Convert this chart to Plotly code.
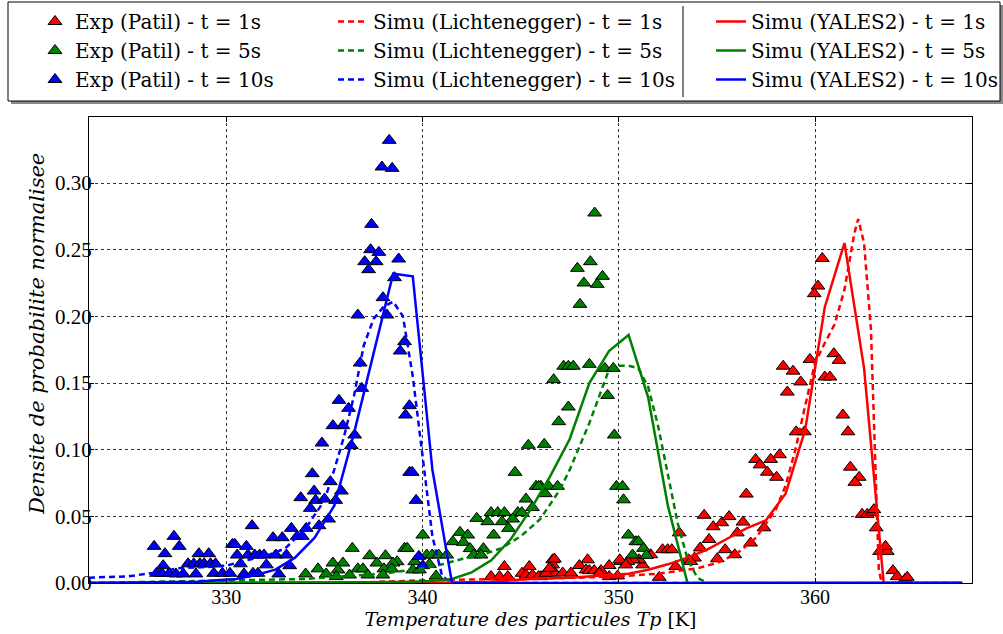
import plotly.graph_objects as go

# --- experimental points (Patil) ---
exp1_x = [360.37, 360.15, 359.96, 358.38, 358.88, 359.27, 358.59, 359.74, 360.96, 361.22, 360.5, 360.76,
          361.42, 361.68, 359.04, 359.46, 361.8, 362.25, 362.03, 356.5, 356.97, 357.2, 357.74, 358.19,
          357.57, 358.04, 354.35, 354.81, 355.25, 355.62, 356.33, 356.04, 354.6, 354.15, 355.42, 356.72,
          355.02, 355.91, 357.4, 353.08, 352.23, 352.49, 352.7, 351.63, 351.21, 352.06, 353.56, 353.86,
          362.4, 362.66, 362.91, 363.0, 363.12, 363.29, 363.68, 363.59, 363.97, 364.19, 364.6, 364.7,
          353.67, 352.9, 351.04, 350.75, 350.45, 350.1, 350.05, 350.36, 349.51, 348.41, 347.99, 348.33,
          348.5, 348.75, 349.09, 346.63, 346.63, 346.63, 346.46, 346.72, 347.14, 347.56, 346.03, 349.51,
          349.94, 349.01, 344.17, 345.44, 343.49, 343.92, 344.34, 345.07, 345.27, 345.6, 345.91, 346.29,
          346.46, 346.72]
exp1_y = [0.2434, 0.2227, 0.217, 0.1626, 0.1589, 0.1508, 0.1432, 0.1677, 0.172, 0.167, 0.1545, 0.1545,
          0.126, 0.1134, 0.1134, 0.1134, 0.0869, 0.0793, 0.0755, 0.0667, 0.0927, 0.0886, 0.0927, 0.0962,
          0.0831, 0.0793, 0.0508, 0.0422, 0.0452, 0.0498, 0.0457, 0.0376, 0.0326, 0.0263, 0.025, 0.030,
          0.0182, 0.0212, 0.0414, 0.0376, 0.025, 0.025, 0.025, 0.0212, 0.0136, 0.0043, 0.0174, 0.0187,
          0.0515, 0.0515, 0.053, 0.055, 0.0414, 0.0237, 0.0237, 0.0275, 0.0093, 0.0048, 0.003, 0.0043,
          0.0161, 0.0124, 0.0174, 0.0174, 0.0161, 0.0161, 0.0174, 0.0136, 0.0131, 0.0174, 0.0131, 0.0098,
          0.0093, 0.0093, 0.0093, 0.0174, 0.0136, 0.0098, 0.0075, 0.0075, 0.0075, 0.0075, 0.0048, 0.0048,
          0.0053, 0.0073, 0.0124, 0.0124, 0.0048, 0.0048, 0.0048, 0.0073, 0.006, 0.006, 0.0048, 0.0073,
          0.011, 0.018]

exp5_x = [348.77, 348.55, 347.89, 349.17, 348.22, 348.9, 348.02, 347.19, 347.43, 347.68, 348.5, 349.29,
          349.72, 346.68, 349.43, 347.43, 346.94, 349.77, 346.2, 346.03, 346.42, 346.88, 346.26, 349.88,
          350.19, 350.24, 350.49, 350.87, 351.0, 351.26, 350.7, 351.41, 345.39, 344.71, 345.78, 345.92,
          345.27, 345.6, 343.49, 343.83, 344.17, 344.85, 345.06, 342.76, 343.32, 344.05, 344.59, 344.38,
          341.91, 342.3, 343.62, 341.54, 342.08, 342.42, 343.1, 340.01, 342.6, 342.98, 336.42, 339.08,
          339.22, 337.3, 338.11, 338.7, 339.6, 340.21, 340.49, 340.82, 341.23, 337.67, 338.49, 335.94,
          336.7, 336.96, 338.03, 338.43, 339.5, 339.84, 340.35, 336.28, 337.21, 337.98, 340.69, 334.04,
          334.67, 335.09, 335.43, 335.69, 335.6]
exp5_y = [0.2775, 0.241, 0.236, 0.230, 0.225, 0.224, 0.209, 0.1626, 0.1626, 0.1626, 0.164, 0.161,
          0.161, 0.1525, 0.1407, 0.132, 0.121, 0.111, 0.104, 0.0725, 0.0725, 0.0725, 0.067, 0.0725,
          0.0725, 0.0624, 0.036, 0.031, 0.031, 0.026, 0.021, 0.0207, 0.1033, 0.083, 0.0725, 0.0725,
          0.063, 0.0566, 0.0528, 0.0528, 0.0528, 0.0528, 0.0528, 0.0485, 0.046, 0.046, 0.048, 0.041,
          0.038, 0.036, 0.036, 0.031, 0.0305, 0.0258, 0.0258, 0.036, 0.021, 0.021, 0.026, 0.026,
          0.026, 0.0205, 0.0205, 0.016, 0.016, 0.021, 0.021, 0.021, 0.021, 0.015, 0.015, 0.015,
          0.0106, 0.0106, 0.0106, 0.0106, 0.0098, 0.0098, 0.014, 0.006, 0.006, 0.006, 0.0053, 0.0068,
          0.0106, 0.0068, 0.015, 0.0098, 0.0048]

exp10_x = [338.3, 337.93, 338.45, 337.4, 337.35, 337.77, 337.05, 337.63, 337.25, 338.78, 338.57, 337.98,
           336.7, 338.18, 339.08, 338.86, 336.82, 336.9, 335.74, 336.23, 339.33, 339.13, 335.94, 336.54,
           336.37, 339.34, 339.47, 339.67, 335.86, 339.81, 340.01, 335.43, 334.87, 334.38, 335.3, 334.47,
           333.79, 334.55, 335.0, 335.57, 334.28, 335.21, 331.31, 333.31, 334.07, 334.72, 333.61, 333.87,
           332.38, 332.85, 327.33, 326.32, 327.6, 326.87, 328.6, 329.1, 330.31, 330.43, 331.02, 330.55,
           331.1, 331.45, 331.7, 331.92, 332.52, 333.06, 326.78, 328.05, 328.34, 328.65, 328.87, 329.19,
           329.45, 330.72, 332.04, 333.23, 326.44, 326.7, 327.09, 327.43, 327.8, 328.45, 329.36, 329.8,
           330.18, 330.9, 331.36, 331.61, 332.67]
exp10_y = [0.332, 0.312, 0.311, 0.269, 0.250, 0.248, 0.241, 0.241, 0.235, 0.243, 0.229, 0.214,
           0.201, 0.201, 0.181, 0.174, 0.165, 0.146, 0.137, 0.131, 0.133, 0.126, 0.118, 0.111,
           0.103, 0.083, 0.083, 0.062, 0.069, 0.020, 0.013, 0.118, 0.105, 0.082, 0.076, 0.069,
           0.064, 0.062, 0.063, 0.062, 0.056, 0.048, 0.043, 0.041, 0.041, 0.043, 0.035, 0.035,
           0.034, 0.034, 0.035, 0.0275, 0.0275, 0.022, 0.022, 0.022, 0.029, 0.029, 0.0275, 0.021,
           0.021, 0.021, 0.021, 0.021, 0.021, 0.021, 0.013, 0.0144, 0.0144, 0.0144, 0.0144, 0.0144,
           0.0144, 0.0144, 0.0136, 0.013, 0.0073, 0.0073, 0.0073, 0.0068, 0.0068, 0.0068, 0.0073, 0.0073,
           0.0073, 0.0068, 0.0073, 0.0073, 0.0068]

# --- Lichtenegger simulation ---
lich1_x = [323, 336, 340, 345, 348, 350, 352, 353, 354, 355, 356, 357, 358, 358.5, 359, 359.5, 360,
           360.5, 361, 361.5, 362, 362.2, 362.5, 362.85, 363.0, 363.25, 363.4, 367.5]
lich1_y = [0, 0.0, 0.002, 0.003, 0.004, 0.005, 0.007, 0.009, 0.011, 0.015, 0.022, 0.034, 0.055, 0.073,
           0.10, 0.133, 0.165, 0.180, 0.194, 0.22, 0.262, 0.273, 0.255, 0.19, 0.116, 0.01, 0.0, 0.0]

lich5_x = [323, 330, 334, 336, 338, 340, 341, 342, 343, 344, 345, 346, 347, 347.5, 348, 348.5, 349,
           349.5, 350, 350.5, 351, 351.5, 352, 352.5, 353, 353.5, 354, 354.5, 367.5]
lich5_y = [0.0, 0.002, 0.003, 0.005, 0.007, 0.011, 0.014, 0.018, 0.021, 0.026, 0.035, 0.048, 0.070,
           0.085, 0.102, 0.120, 0.140, 0.160, 0.163, 0.163, 0.161, 0.147, 0.118, 0.080, 0.045, 0.018,
           0.004, 0.0, 0.0]

lich10_x = [323, 325, 326.5, 327.5, 329, 330, 331, 332, 333, 334, 335, 335.5, 336, 336.5, 337, 337.5,
            338, 338.5, 339, 339.5, 340, 340.5, 341, 341.5, 367.5]
lich10_y = [0.004, 0.005, 0.008, 0.011, 0.012, 0.013, 0.017, 0.020, 0.026, 0.040, 0.062, 0.085, 0.110,
            0.140, 0.178, 0.198, 0.207, 0.211, 0.200, 0.155, 0.095, 0.035, 0.005, 0.0, 0.0]

# --- YALES2 simulation ---
yales1_x = [323, 340.5, 343.5, 345.5, 347.5, 348.5, 349.5, 350.5, 351.5, 352.5, 353.5, 354.5, 355.5,
            356.5, 357.5, 358.5, 359.5, 360.5, 361.5, 362.5, 363.5, 367.5]
yales1_y = [0, 0.0, 0.001, 0.003, 0.004, 0.005, 0.006, 0.007, 0.010, 0.014, 0.019, 0.025, 0.033,
            0.041, 0.047, 0.067, 0.115, 0.207, 0.255, 0.161, 0.0, 0.0]

yales5_x = [323, 335.5, 337.5, 339.5, 340.5, 341.5, 342.5, 343.5, 344.5, 345.5, 346.5, 347.5, 348.5,
            349.5, 350.5, 351.5, 352.5, 353.5, 367.5]
yales5_y = [0, 0.0003, 0.0006, 0.001, 0.0015, 0.003, 0.008, 0.017, 0.033, 0.055, 0.080, 0.108, 0.150,
            0.174, 0.186, 0.139, 0.058, 0.0, 0.0]

yales10_x = [323, 326.5, 328.5, 329.5, 330.5, 331.5, 332.5, 333.5, 334.5, 335.5, 336.5, 337.5, 338.5,
             339.5, 340.5, 341.5, 367.5]
yales10_y = [0.0, 0.0005, 0.001, 0.002, 0.003, 0.006, 0.010, 0.019, 0.034, 0.058, 0.112, 0.172, 0.232,
             0.230, 0.085, 0.0, 0.0]

colors = ['#ff0000', '#008000', '#0000ff']
times = ['1s', '5s', '10s']

SERIF = 'DejaVu Serif'
TICKFONT = 'Liberation Serif'

fig = go.Figure()

exps = [(exp1_x, exp1_y), (exp5_x, exp5_y), (exp10_x, exp10_y)]
for (xs, ys), c, t in zip(exps, colors, times):
    fig.add_trace(go.Scatter(
        x=xs, y=ys, mode='markers', name='Exp (Patil) - t = %s' % t,
        marker=dict(symbol='triangle-up', size=12, color=c, line=dict(color='black', width=1)),
        legend='legend'))

lichs = [(lich1_x, lich1_y), (lich5_x, lich5_y), (lich10_x, lich10_y)]
for (xs, ys), c, t in zip(lichs, colors, times):
    fig.add_trace(go.Scatter(
        x=xs, y=ys, mode='lines', name='Simu (Lichtenegger) - t = %s' % t,
        line=dict(color=c, width=2.5, dash='6px,4px'), legend='legend2'))

yales = [(yales1_x, yales1_y), (yales5_x, yales5_y), (yales10_x, yales10_y)]
for (xs, ys), c, t in zip(yales, colors, times):
    fig.add_trace(go.Scatter(
        x=xs, y=ys, mode='lines', name='Simu (YALES2) - t = %s' % t,
        line=dict(color=c, width=2.5), legend='legend3'))

L, R, T, B = 89, 31, 117, 51
W, H = 1003, 634
pw, ph = W - L - R, H - T - B

def px(x):
    return (x - L) / pw

def py(y):
    return 1 + (T - y) / ph

leg_common = dict(bgcolor='rgba(0,0,0,0)', borderwidth=0, font=dict(family=SERIF, size=20, color='black'),
                  xanchor='left', yanchor='top', y=py(2), tracegroupgap=0)

fig.update_layout(
    width=W, height=H,
    margin=dict(l=L, r=R, t=T, b=B, autoexpand=False),
    paper_bgcolor='white', plot_bgcolor='white',
    font=dict(family=SERIF, size=19, color='black'),
    legend=dict(x=px(35), **leg_common),
    legend2=dict(x=px(333), **leg_common),
    legend3=dict(x=px(711), **leg_common),
    shapes=[
        dict(type='rect', xref='paper', yref='paper', x0=px(11), x1=px(1003), y0=py(104), y1=py(5),
             fillcolor='#888888', line=dict(width=0), layer='below'),
        dict(type='rect', xref='paper', yref='paper', x0=px(8), x1=px(1000), y0=py(101), y1=py(2),
             fillcolor='white', line=dict(color='black', width=1), layer='below'),
        dict(type='line', xref='paper', yref='paper', x0=px(683), x1=px(683), y0=py(97), y1=py(6),
             line=dict(color='black', width=1)),
    ],
    annotations=[
        dict(text='<i>Densite de probabilite normalisee</i>', xref='paper', yref='paper',
             x=px(37), y=py(334), xanchor='center', yanchor='middle', textangle=-90, showarrow=False,
             font=dict(family=SERIF, size=21)),
    ],
)

fig.update_xaxes(
    range=[323, 368], tick0=330, dtick=10, ticks='inside', ticklen=5, tickcolor='black',
    showline=True, linecolor='black', linewidth=1, mirror='ticks', automargin=False,
    showgrid=True, gridcolor='#333333', gridwidth=1, griddash='dot', zeroline=False,
    tickfont=dict(family=TICKFONT, size=20), ticklabelstandoff=-4,
    title=dict(text='<i>Temperature des particules Tp</i> [K]', font=dict(family=SERIF, size=19), standoff=0))

fig.update_yaxes(
    range=[0, 0.3495], tick0=0, dtick=0.05, tickformat='.2f', ticks='inside', ticklen=5, tickcolor='black',
    showline=True, linecolor='black', linewidth=1, mirror='ticks', automargin=False,
    showgrid=True, gridcolor='#333333', gridwidth=1, griddash='dot', zeroline=False,
    tickfont=dict(family=TICKFONT, size=21), ticklabelstandoff=-8)

fig.write_html('out.html', config={'displayModeBar': False},
               post_script="document.body.style.margin='0';")
